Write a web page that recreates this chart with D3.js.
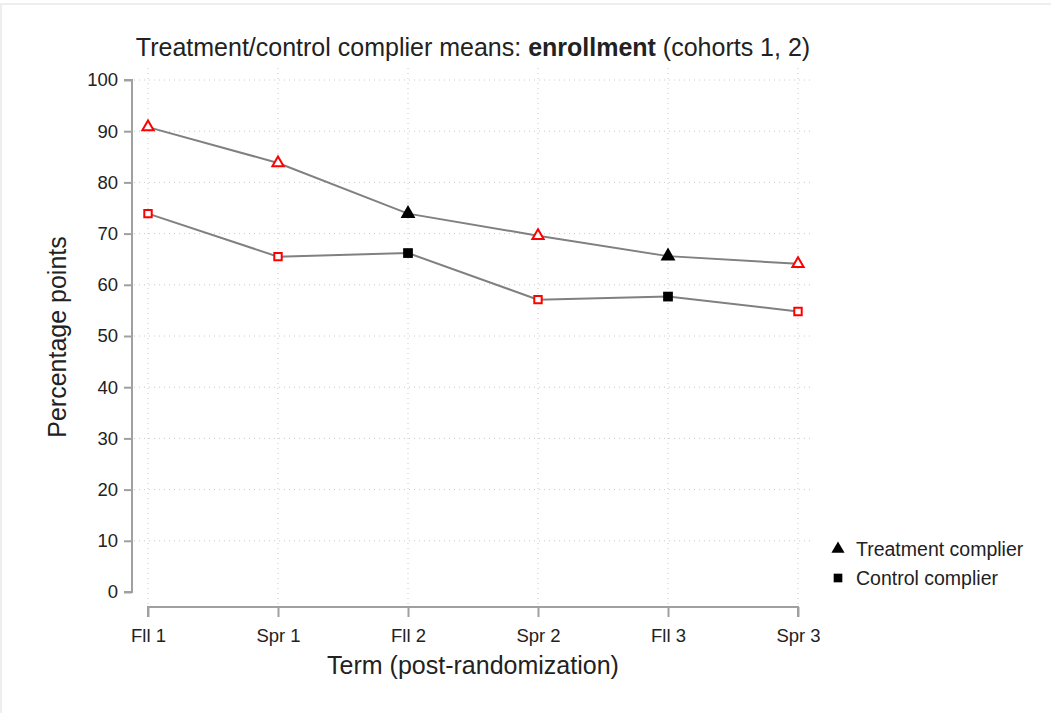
<!DOCTYPE html>
<html>
<head>
<meta charset="utf-8">
<script src="https://cdn.jsdelivr.net/npm/d3@7"></script>
<style>
  body { margin: 0; background: #fff; font-family: "Liberation Sans", Arial, sans-serif; }
  svg text { font-family: "Liberation Sans", Arial, sans-serif; fill: #222; }
</style>
</head>
<body>
<svg id="chart"></svg>
<script>
// Terms (x categories)
const terms = ["Fll 1", "Spr 1", "Fll 2", "Spr 2", "Fll 3", "Spr 3"];
// complier means, percentage points
const treatmentValues = [90.8, 83.8, 73.9, 69.6, 65.6, 64.1];
const controlValues = [73.9, 65.5, 66.2, 57.1, 57.7, 54.8];
// which terms show filled black markers (the rest are hollow red)
const filledTerms = ["Fll 2", "Fll 3"];
const yTicks = [0, 10, 20, 30, 40, 50, 60, 70, 80, 90, 100];
const legendItems = ["Treatment complier", "Control complier"];

const width = 1051, height = 713;
const svg = d3.select("#chart").attr("width", width).attr("height", height);

// faint frame from the screenshot
svg.append("rect")
    .attr("x", 1).attr("y", 4)
    .attr("width", width + 10).attr("height", height + 10)
    .attr("fill", "none").attr("stroke", "#eeeeee").attr("stroke-width", 2);

const xScale = d3.scalePoint().domain(terms).range([148, 798]);
const yScale = d3.scaleLinear().domain([0, 100]).range([592, 80]);

// gridlines
const grid = svg.append("g");
grid.selectAll(".hgrid")
    .data(yTicks.filter(d => d > 0))
    .join("line")
    .attr("x1", 134).attr("x2", 812)
    .attr("y1", d => yScale(d)).attr("y2", d => yScale(d))
    .attr("stroke", "#c8c8c8").attr("stroke-dasharray", "1,4");
grid.selectAll(".vgrid")
    .data(terms)
    .join("line")
    .attr("x1", d => xScale(d)).attr("x2", d => xScale(d))
    .attr("y1", 68).attr("y2", 605)
    .attr("stroke", "#c8c8c8").attr("stroke-dasharray", "1,4");

// y axis
const yAxisG = svg.append("g")
    .attr("transform", "translate(132,0)")
    .call(d3.axisLeft(yScale).tickValues(yTicks).tickSize(8).tickPadding(6));
yAxisG.select(".domain").attr("stroke", "#a0a0a0").attr("stroke-width", 2)
    .attr("d", `M-8,${yScale(100)}H0V${yScale(0)}H-8`);
yAxisG.selectAll(".tick line").attr("stroke", "#a0a0a0").attr("stroke-width", 2);
yAxisG.selectAll(".tick text").style("font-size", "18.5px").attr("fill", "#222");

// x axis
const xAxisG = svg.append("g")
    .attr("transform", "translate(0,607)")
    .call(d3.axisBottom(xScale).tickSize(10).tickPadding(12));
xAxisG.select(".domain").attr("stroke", "#a0a0a0").attr("stroke-width", 2)
    .attr("d", `M${xScale(terms[0])},10V0H${xScale(terms[terms.length - 1])}V10`);
xAxisG.selectAll(".tick line").attr("stroke", "#a0a0a0").attr("stroke-width", 2);
xAxisG.selectAll(".tick text").style("font-size", "18.5px").attr("fill", "#222");

// lines
const series = [
  {name: "treatment", values: treatmentValues, shape: d3.symbolTriangle, size: 55},
  {name: "control", values: controlValues, shape: d3.symbolSquare, size: 55}
];
const line = d3.line().x((d, i) => xScale(terms[i])).y(d => yScale(d));

series.forEach(s => {
  svg.append("path")
      .datum(s.values)
      .attr("d", line)
      .attr("fill", "none")
      .attr("stroke", "#808080")
      .attr("stroke-width", 2);

  svg.selectAll(".pt-" + s.name)
      .data(s.values)
      .join("path")
      .attr("class", "pt-" + s.name)
      .attr("transform", (d, i) => `translate(${xScale(terms[i])},${yScale(d)})`)
      .attr("d", (d, i) => {
        const filled = filledTerms.includes(terms[i]);
        return d3.symbol(s.shape, filled ? s.size + 40 : s.size)();
      })
      .attr("fill", (d, i) => filledTerms.includes(terms[i]) ? "#000" : "#fff")
      .attr("stroke", (d, i) => filledTerms.includes(terms[i]) ? "#000" : "#ff0000")
      .attr("stroke-width", (d, i) => filledTerms.includes(terms[i]) ? 0 : 2);
});

// title
const title = svg.append("text")
    .attr("x", 473).attr("y", 56)
    .attr("text-anchor", "middle")
    .style("font-size", "25px");
title.append("tspan").text("Treatment/control complier means: ");
title.append("tspan").style("font-weight", "bold").text("enrollment");
title.append("tspan").text(" (cohorts 1, 2)");

// axis titles
svg.append("text")
    .attr("transform", "translate(66,337) rotate(-90)")
    .attr("text-anchor", "middle")
    .style("font-size", "25px")
    .text("Percentage points");
svg.append("text")
    .attr("x", 473).attr("y", 674)
    .attr("text-anchor", "middle")
    .style("font-size", "25px")
    .text("Term (post-randomization)");

// legend
const legend = svg.append("g").attr("transform", "translate(838,549)");
legendItems.forEach((label, i) => {
  const g = legend.append("g").attr("transform", `translate(0,${i * 29})`);
  g.append("path")
      .attr("d", d3.symbol(i === 0 ? d3.symbolTriangle : d3.symbolSquare, 75)())
      .attr("fill", "#000");
  g.append("text")
      .attr("x", 18).attr("y", 7)
      .style("font-size", "19.5px")
      .text(label);
});
</script>
</body>
</html>
